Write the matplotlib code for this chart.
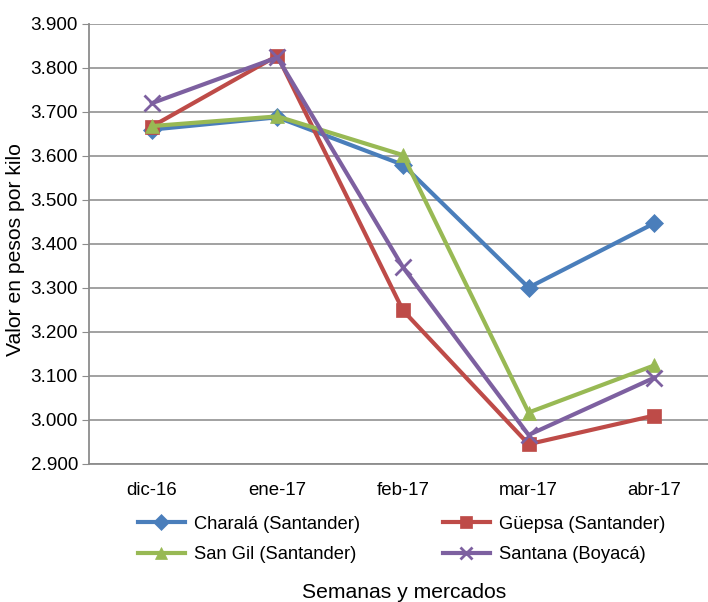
import numpy as np
import matplotlib.pyplot as plt

plt.rcParams["font.family"] = ["Liberation Sans", "DejaVu Sans"]

months = ["dic-16", "ene-17", "feb-17", "mar-17", "abr-17"]
charala = [3.660, 3.688, 3.580, 3.301, 3.447]
guepsa = [3.667, 3.828, 3.249, 2.945, 3.010]
san_gil = [3.668, 3.690, 3.602, 3.017, 3.124]
santana = [3.720, 3.824, 3.347, 2.966, 3.096]

series = [
    ("Charalá (Santander)", charala, "#4a7ebb", "D", 9),
    ("Güepsa (Santander)", guepsa, "#be4b48", "s", 10.5),
    ("San Gil (Santander)", san_gil, "#98b954", "^", 10.5),
    ("Santana (Boyacá)", santana, "#7d60a0", "x", 11),
]

fig = plt.figure(figsize=(7.08, 6.02), dpi=100)
ax = fig.add_axes([89 / 708, 1 - 464 / 602, 628 / 708, 440 / 602])

x = np.arange(len(months))
for name, vals, color, marker, ms in series:
    ax.plot(x, vals, color=color, lw=3, marker=marker, markersize=ms,
            markeredgewidth=2 if marker == "x" else 0.5,
            markeredgecolor=color, label=name, clip_on=False)

ax.set_xlim(-0.5, 4.5)
ax.set_ylim(2.9, 3.9)
ax.set_yticks(np.arange(2.9, 3.901, 0.1))
ax.set_yticklabels([f"{v:.3f}" for v in np.arange(2.9, 3.901, 0.1)])
ax.set_xticks(x)
ax.set_xticklabels(months)
ax.tick_params(axis="y", length=5, color="#8c8c8c", labelsize=13.6, pad=3)
ax.tick_params(axis="x", length=0, labelsize=13.4, pad=13)
ax.grid(axis="y", color="#9a9a9a", lw=1.3)
ax.set_axisbelow(True)
for side in ["top", "right"]:
    ax.spines[side].set_visible(False)
for side in ["left", "bottom"]:
    ax.spines[side].set_color("#8c8c8c")
    ax.spines[side].set_linewidth(1.3)

fig.text(16 / 708, 1 - 250 / 602, "Valor en pesos por kilo", rotation=90,
         ha="center", va="center", fontsize=15.2)
fig.text(404 / 708, 1 - 593 / 602, "Semanas y mercados", ha="center", va="center", fontsize=15.2)

handles, labels = ax.get_legend_handles_labels()
order = [0, 2, 1, 3]
fig.legend([handles[i] for i in order], [labels[i] for i in order],
           ncol=2, loc="center left", bbox_to_anchor=(138 / 708, 1 - 539.5 / 602),
           frameon=False, fontsize=13.2, handlelength=2.56, columnspacing=4.5,
           labelspacing=0.72, handletextpad=0.5, borderpad=0, borderaxespad=0,
           markerscale=0.85)

fig.savefig("out.png", dpi=100)
